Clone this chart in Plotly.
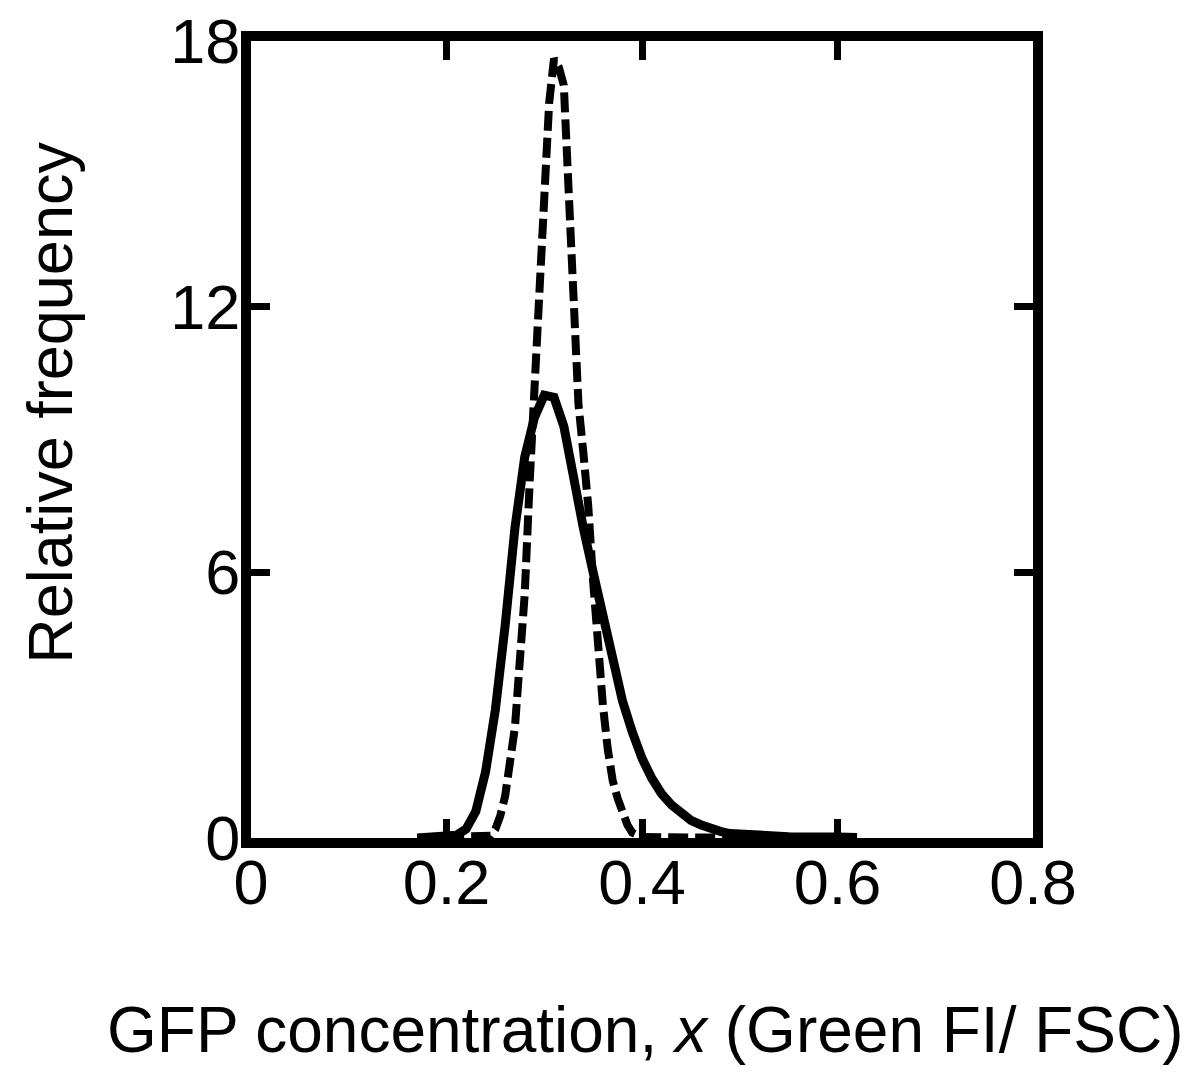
import plotly.graph_objects as go

# Solid curve (wider distribution)
solid_x = [0.17, 0.18, 0.19, 0.20, 0.21, 0.22, 0.23, 0.24, 0.25, 0.26, 0.27, 0.28, 0.29,
           0.30, 0.31, 0.32, 0.33, 0.34, 0.35, 0.36, 0.37, 0.38, 0.39, 0.40, 0.41, 0.42,
           0.43, 0.44, 0.45, 0.46, 0.47, 0.48, 0.49, 0.50, 0.52, 0.55, 0.60, 0.62]
solid_y = [0.0, 0.01, 0.02, 0.03, 0.06, 0.2, 0.6, 1.5, 2.9, 4.8, 7.0, 8.6, 9.5,
           10.0, 9.95, 9.3, 8.1, 7.0, 6.0, 5.0, 3.9, 3.1, 2.4, 1.8, 1.35, 1.0,
           0.75, 0.55, 0.4, 0.3, 0.2, 0.15, 0.1, 0.08, 0.05, 0.03, 0.02, 0.01]

# Dashed curve (narrow distribution)
dash_x = [0.17, 0.20, 0.24, 0.245, 0.25, 0.255, 0.26, 0.265, 0.27, 0.275, 0.28, 0.285,
          0.29, 0.295, 0.30, 0.305, 0.31, 0.315, 0.32, 0.325, 0.33, 0.335, 0.34, 0.345,
          0.35, 0.355, 0.36, 0.365, 0.37, 0.375, 0.38, 0.385, 0.39, 0.395, 0.40, 0.45, 0.62]
dash_y = [0.0, 0.01, 0.02, 0.05, 0.2, 0.5, 0.95, 1.6, 2.5, 4.0, 5.5, 8.0,
          10.3, 12.9, 15.2, 16.6, 17.6, 17.4, 17.0, 14.5, 11.8, 9.8, 8.7, 7.5,
          5.8, 4.2, 3.0, 2.0, 1.3, 0.9, 0.55, 0.3, 0.12, 0.05, 0.02, 0.01, 0.0]

x_ticks = [0, 0.2, 0.4, 0.6, 0.8]
x_tick_labels = ["0", "0.2", "0.4", "0.6", "0.8"]
y_ticks = [0, 6, 12, 18]
y_tick_labels = ["0", "6", "12", "18"]

FONT = "Liberation Sans, Arial, sans-serif"

fig = go.Figure()
fig.add_trace(go.Scatter(x=solid_x, y=solid_y, mode="lines",
                         line=dict(color="black", width=9), showlegend=False))
fig.add_trace(go.Scatter(x=dash_x, y=dash_y, mode="lines",
                         line=dict(color="black", width=8, dash="20px,7px"), showlegend=False))

axis_common = dict(showline=True, linecolor="black", linewidth=10, mirror="ticks",
                   ticks="inside", ticklen=19, tickwidth=7, tickcolor="black",
                   showgrid=False, zeroline=False, ticklabeloverflow="allow",
                   automargin=False,
                   tickfont=dict(family=FONT, size=63, color="black"))

fig.update_xaxes(range=[0, 0.8], tickvals=x_ticks, ticktext=x_tick_labels,
                 ticklabelstandoff=-20, **axis_common)
fig.update_yaxes(range=[0, 18], tickvals=y_ticks, ticktext=y_tick_labels,
                 ticklabelstandoff=-12, **axis_common)

fig.add_annotation(text="GFP concentration, <i>x</i> (Green FI/ FSC)", xref="paper", yref="paper",
                   x=0.505, y=-0.241, xanchor="center", yanchor="middle", showarrow=False,
                   font=dict(family=FONT, size=64, color="black"))
fig.add_annotation(text="Relative frequency", xref="paper", yref="paper",
                   x=-0.257, y=0.546, xanchor="center", yanchor="middle", showarrow=False,
                   textangle=-90, font=dict(family=FONT, size=63, color="black"))

fig.update_layout(width=1185, height=1066, plot_bgcolor="white", paper_bgcolor="white",
                  margin=dict(l=243, r=160, t=33, b=236))

fig.write_html("out.html")
